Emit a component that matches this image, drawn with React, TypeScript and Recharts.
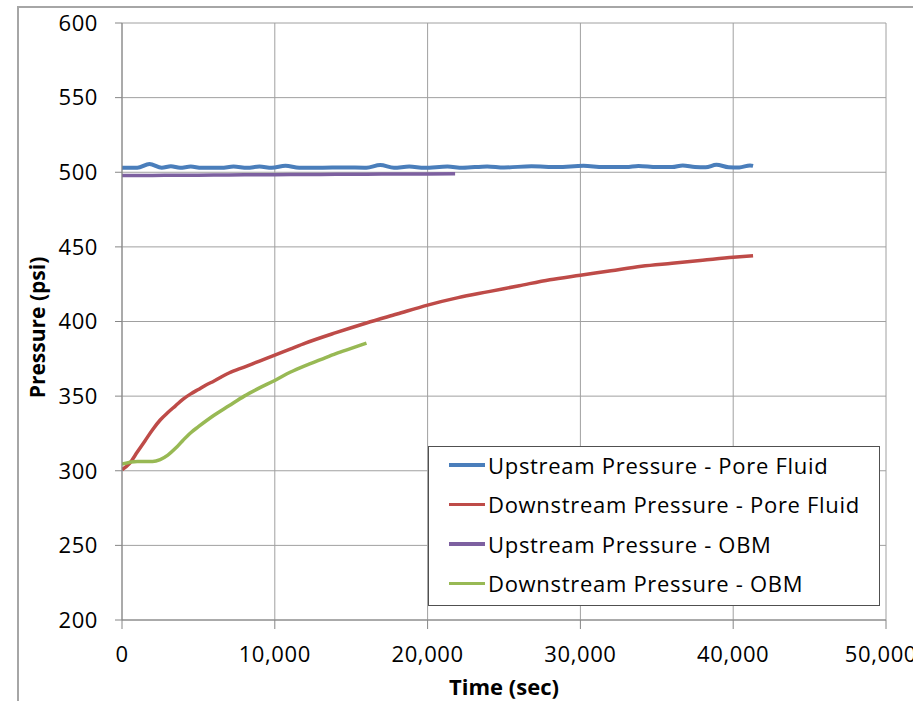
import React from 'react';
import { LineChart, Line, XAxis, YAxis, CartesianGrid, Legend } from 'recharts';

// time (sec) / pressure (psi)
const upPoreTime = [0, 1000, 1800, 2600, 3200, 3800, 4500, 5200, 6500, 7300, 8200, 9000, 9800, 10700, 11600, 13000, 14500, 16000, 16900, 17800, 18800, 19800, 21300, 22300, 23900, 25000, 26800, 28500, 30200, 31500, 33000, 33800, 35000, 36000, 36700, 37500, 38200, 38900, 39700, 40400, 41100, 41300];
const upPoreValues = [503, 503, 505.5, 503, 504, 503, 503.8, 503, 503, 503.8, 503, 503.8, 503, 504.3, 503, 503, 503.2, 503, 504.8, 503, 503.8, 503, 503.8, 503, 503.9, 503.2, 504, 503.5, 504.3, 503.5, 503.5, 504.2, 503.5, 503.5, 504.6, 503.5, 503.3, 505, 503.4, 503.2, 504.6, 504.3];

const downPoreTime = [0, 500, 1000, 1500, 2000, 2500, 3000, 3500, 4000, 4500, 5000, 5500, 6000, 7000, 8000, 9000, 10000, 11000, 12000, 14000, 16000, 18000, 20000, 22000, 24000, 26000, 28000, 30000, 32000, 34000, 36000, 38000, 40000, 41300];
const downPoreValues = [300.7, 305, 312.5, 320, 327.5, 334, 339, 343.5, 348, 351.5, 354.5, 357.5, 360, 365.5, 369.5, 373.5, 377.5, 381.5, 385.5, 392.5, 399, 405, 411, 416, 420, 424, 428, 431, 434, 437, 439, 441, 443, 444];

const upObmTime = [0, 2000, 4000, 6000, 8000, 10000, 12000, 14000, 16000, 18000, 20000, 21800];
const upObmValues = [497.9, 497.9, 498, 498.1, 498.3, 498.4, 498.5, 498.6, 498.7, 498.8, 498.9, 499];

const downObmTime = [0, 1000, 2000, 2500, 3000, 3500, 4000, 4500, 5000, 6000, 7000, 8000, 9000, 10000, 11000, 12000, 13000, 14000, 15000, 16000];
const downObmValues = [304.5, 306.2, 306.2, 307.5, 310.5, 315, 320.5, 325.5, 329.5, 337, 343.5, 350, 355.5, 360.5, 366, 370.5, 374.5, 378.5, 382, 385.5];

const xTicks = [0, 10000, 20000, 30000, 40000, 50000];
const yTicks = [200, 250, 300, 350, 400, 450, 500, 550, 600];

const toPoints = (t: number[], v: number[]) => t.map((time, i) => ({ t: time, p: v[i] }));

const series = [
  { name: 'Upstream Pressure - Pore Fluid', color: '#4a7ebb', data: toPoints(upPoreTime, upPoreValues), width: 4 },
  { name: 'Downstream Pressure - Pore Fluid', color: '#be4b48', data: toPoints(downPoreTime, downPoreValues), width: 3.5 },
  { name: 'Upstream Pressure - OBM', color: '#7d60a0', data: toPoints(upObmTime, upObmValues), width: 3.5 },
  { name: 'Downstream Pressure - OBM', color: '#98b954', data: toPoints(downObmTime, downObmValues), width: 3.5 },
];

const FONT = '"Open Sans", sans-serif';
const order = series.map(s => s.name);

const LegendBox = (props: any) => {
  const items = [...(props.payload || [])].sort((a: any, b: any) => order.indexOf(a.value) - order.indexOf(b.value));
  return (
    <div style={{ width: 452, height: 160, boxSizing: 'border-box', border: '1.5px solid #505050', background: '#fff', fontFamily: FONT }}>
      <div style={{ marginTop: -2 }}>
        {items.map((it: any) => (
          <div key={it.value} style={{ display: 'flex', alignItems: 'center', height: 39.5 }}>
            <div style={{ width: 36, height: 3.5, background: it.color, marginLeft: 20, marginRight: 3 }} />
            <span style={{ fontSize: 22, letterSpacing: 0.7, color: '#000' }}>{it.value}</span>
          </div>
        ))}
      </div>
    </div>
  );
};

const tickStyle = { fill: '#000', fontSize: 22, fontFamily: FONT, letterSpacing: 0.6 };

const App: React.FC = () => {
  return (
    <div style={{ position: 'absolute', left: 0, top: 0, width: 913, height: 701, overflow: 'hidden', background: '#fff' }}>
      <div style={{ position: 'absolute', left: 17, top: 6, width: 1200, height: 1200, border: '2px solid #a6a6a6' }} />
      <div style={{ position: 'absolute', left: 0, top: 0 }}>
        <LineChart width={913} height={701} margin={{ top: 23, right: 27, left: 0, bottom: 0 }}>
          <CartesianGrid stroke="#a0a0a0" strokeWidth={1} />
          <XAxis
            type="number"
            dataKey="t"
            domain={[0, 50000]}
            ticks={xTicks}
            height={81}
            stroke="#868686"
            tickSize={9}
            tickMargin={17}
            tick={tickStyle}
            tickFormatter={(v: number) => v.toLocaleString('en-US')}
            allowDataOverflow
            label={{
              content: (p: any) => (
                <text x={p.viewBox.x + p.viewBox.width / 2} y={p.viewBox.y + 75} textAnchor="middle" fontFamily={FONT} fontWeight="bold" fontSize={22} fill="#000">
                  Time (sec)
                </text>
              ),
            }}
          />
          <YAxis
            type="number"
            dataKey="p"
            domain={[200, 600]}
            ticks={yTicks}
            width={122}
            stroke="#868686"
            tickSize={7}
            tickMargin={17}
            tick={tickStyle}
            allowDataOverflow
            label={{
              content: (p: any) => {
                const cx = 45;
                const cy = p.viewBox.y + p.viewBox.height / 2 + 6;
                return (
                  <text x={cx} y={cy} transform={`rotate(-90 ${cx} ${cy})`} textAnchor="middle" fontFamily={FONT} fontWeight="bold" fontSize={21} fill="#000">
                    Pressure (psi)
                  </text>
                );
              },
            }}
          />
          <Legend
            layout="vertical"
            align="center"
            verticalAlign="middle"
            content={<LegendBox />}
            wrapperStyle={{ left: 428, top: 446, width: 452, height: 160 }}
          />
          {series.map(s => (
            <Line
              key={s.name}
              data={s.data}
              dataKey="p"
              name={s.name}
              type="monotone"
              stroke={s.color}
              strokeWidth={s.width}
              dot={false}
              isAnimationActive={false}
            />
          ))}
        </LineChart>
      </div>
    </div>
  );
};

export default App;
